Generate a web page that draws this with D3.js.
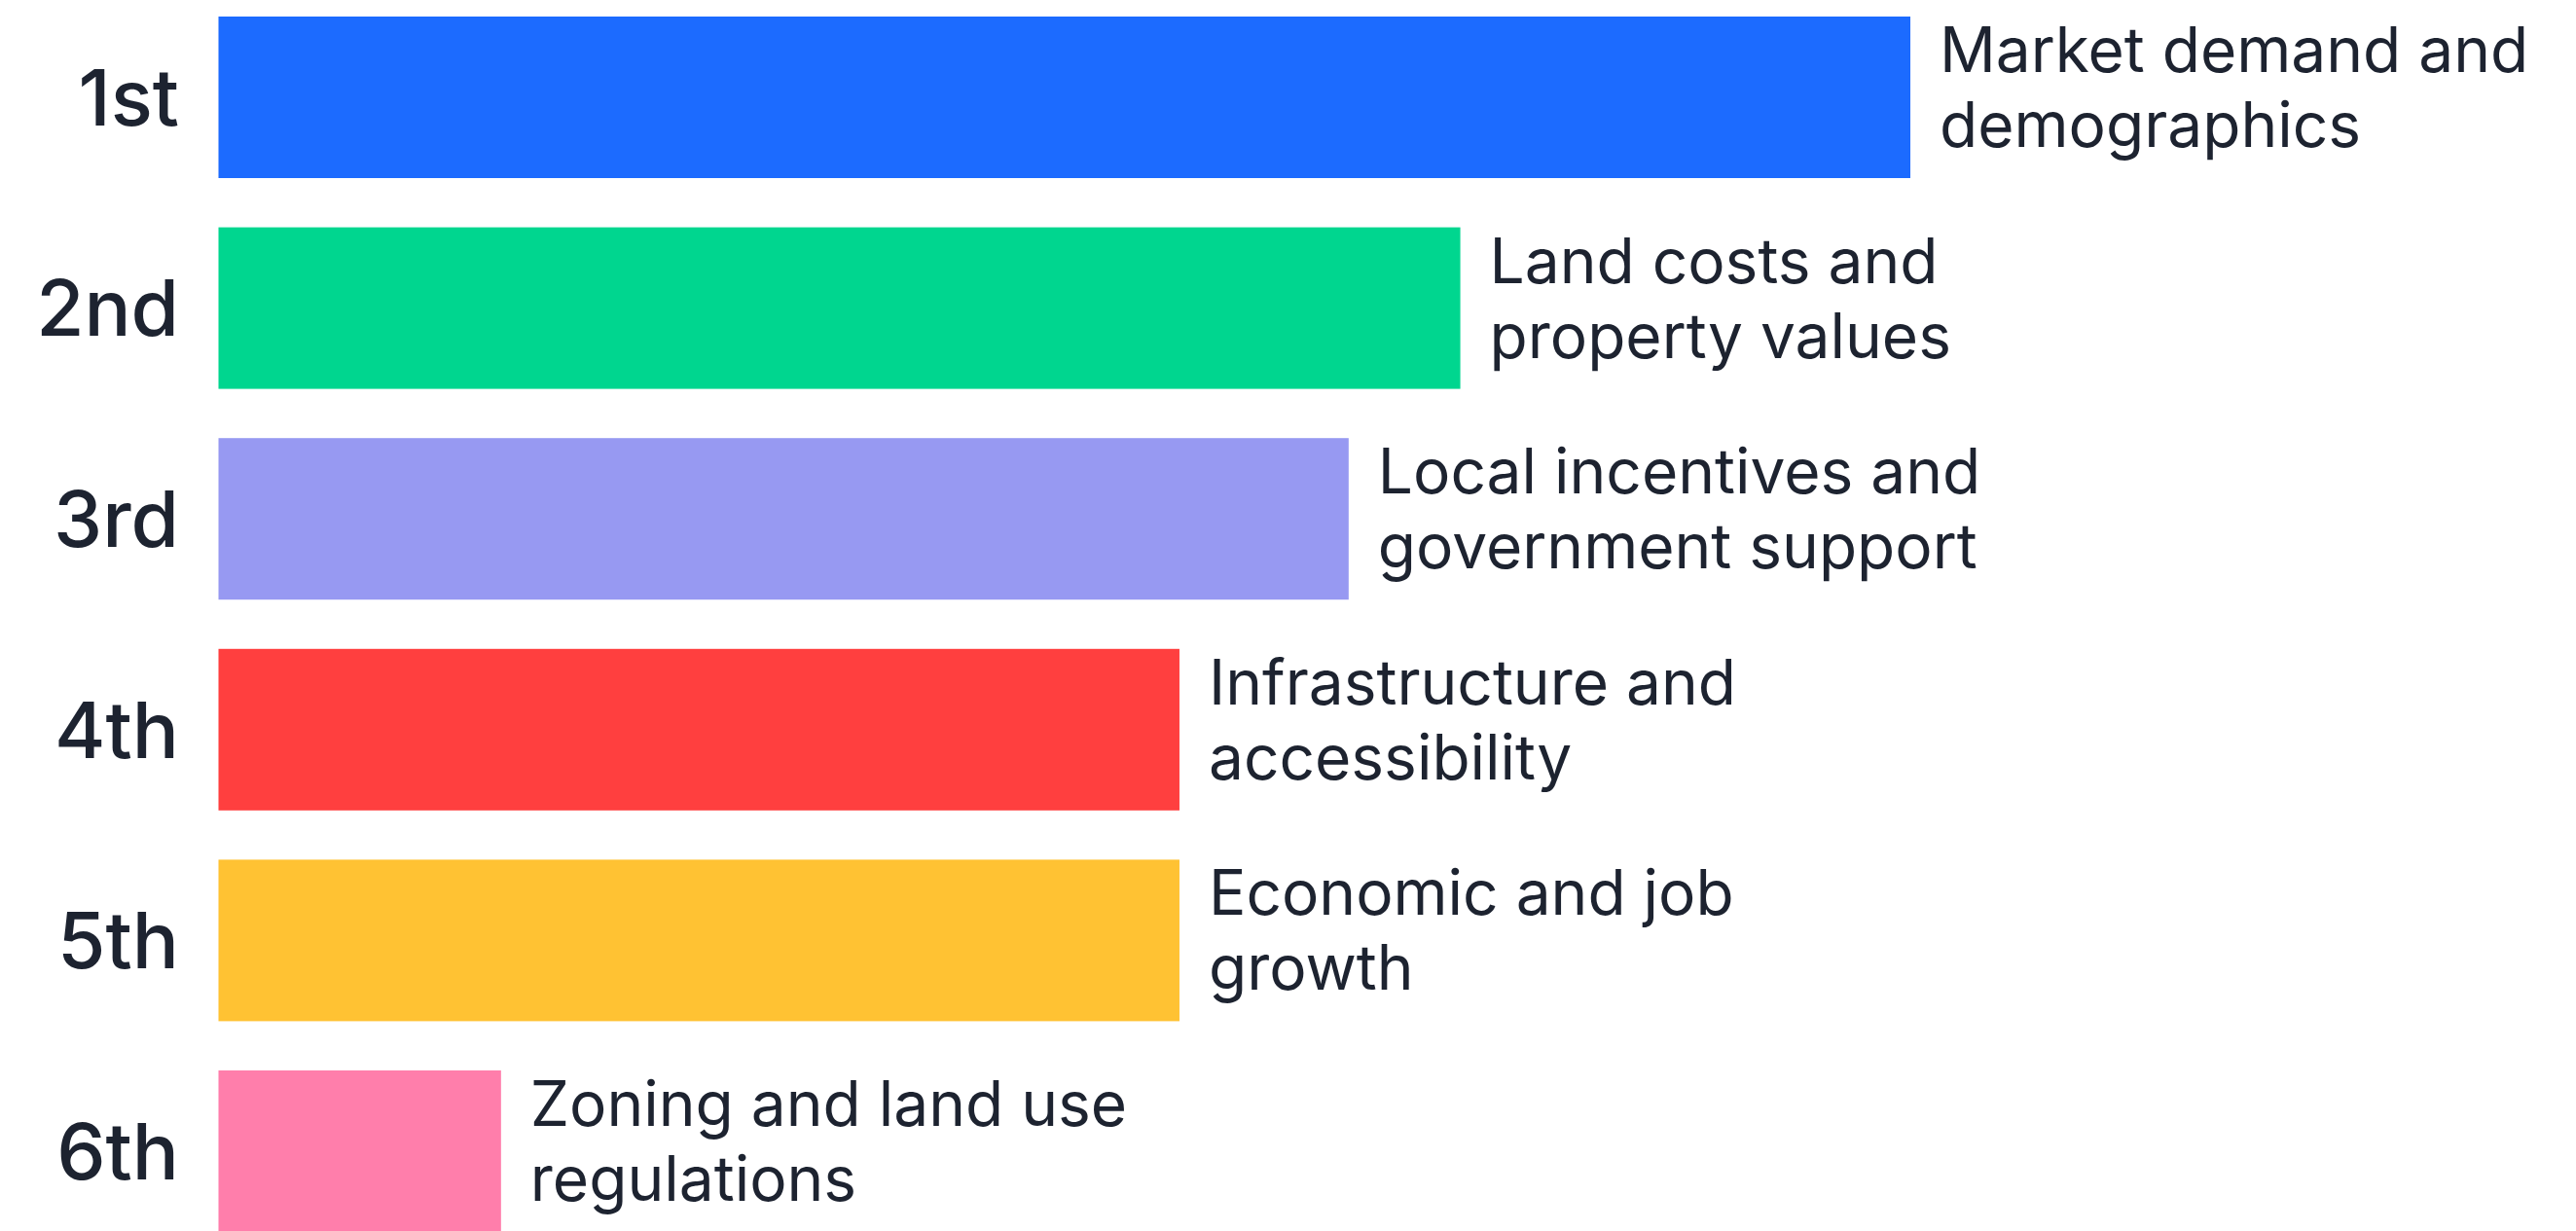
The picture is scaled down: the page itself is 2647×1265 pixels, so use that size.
<!DOCTYPE html>
<html>
<head>
<meta charset="utf-8">
<script src="https://cdn.jsdelivr.net/npm/d3@7"></script>
<style>
  html, body { margin: 0; padding: 0; background: #fff; }
  .rank { font-family: Inter, "Noto Sans", sans-serif; font-weight: 500; fill: #1d2330; }
  .label { font-family: Inter, "Noto Sans", sans-serif; font-weight: 400; fill: #1d2330; }
</style>
</head>
<body>
<div id="chart"></div>
<script>
// ranking of site selection factors
const ranks = ["1st", "2nd", "3rd", "4th", "5th", "6th"];
const factors = [
    ["Market demand and", "demographics"],
    ["Land costs and", "property values"],
    ["Local incentives and", "government support"],
    ["Infrastructure and", "accessibility"],
    ["Economic and job", "growth"],
    ["Zoning and land use", "regulations"]
];
const scores = [100, 73.4, 66.8, 56.8, 56.8, 16.7];
const colors = ["#1c6bff", "#00d68f", "#9799f2", "#ff3f3f", "#ffc233", "#ff7eab"];

const data = ranks.map((r, i) => ({rank: r, lines: factors[i], value: scores[i], color: colors[i]}));

const width = 2647, height = 1265;

const svg = d3.select("#chart").append("svg")
    .attr("width", width)
    .attr("height", height);

const x = d3.scaleLinear()
    .domain([0, 100])
    .range([224.5, 1963]);

const y = d3.scaleBand()
    .domain(ranks)
    .range([17, 1266])
    .paddingInner(0.2336)
    .paddingOuter(0);

// rank labels on the left
const yAxis = d3.axisLeft(y).tickSize(0).tickPadding(0);
const axis = svg.append("g")
    .attr("transform", "translate(184,0)")
    .call(yAxis);
axis.select(".domain").remove();
axis.selectAll("text")
    .attr("class", "rank")
    .attr("font-size", 80)
    .attr("dy", "0.36em")
    .attr("fill", null);

const bars = svg.selectAll(".bar")
    .data(data)
    .enter()
    .append("g");

bars.append("rect")
    .attr("class", "bar")
    .attr("x", x(0))
    .attr("y", d => y(d.rank))
    .attr("width", d => x(d.value) - x(0))
    .attr("height", y.bandwidth())
    .attr("fill", d => d.color);

// two-line label to the right of each bar
const labels = bars.append("text")
    .attr("class", "label")
    .attr("font-size", 64)
    .attr("x", d => x(d.value) + 30)
    .attr("y", d => y(d.rank) + y.bandwidth() / 2 - 26);

labels.selectAll("tspan")
    .data(d => d.lines.map(t => ({t, d})))
    .enter()
    .append("tspan")
    .attr("x", p => x(p.d.value) + 30)
    .attr("dy", (p, i) => i === 0 ? 0 : 77)
    .text(p => p.t);
</script>
</body>
</html>
